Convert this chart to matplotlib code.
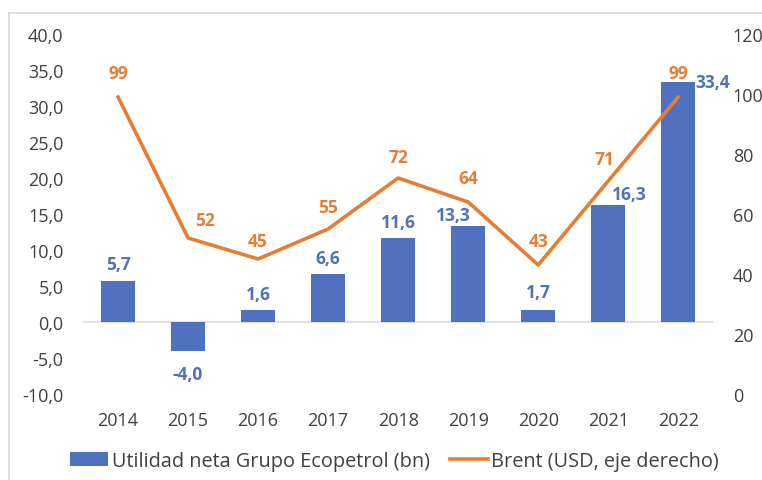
import matplotlib.pyplot as plt
from matplotlib.lines import Line2D

# data
years = ["2014", "2015", "2016", "2017", "2018", "2019", "2020", "2021", "2022"]
utilidad = [5.7, -4.0, 1.6, 6.6, 11.6, 13.3, 1.7, 16.3, 33.4]
brent = [99, 52, 45, 55, 72, 64, 43, 71, 99]
left_ticks = [-10, -5, 0, 5, 10, 15, 20, 25, 30, 35, 40]
right_ticks = [0, 20, 40, 60, 80, 100, 120]

# label nudges in points (dx, dy) -- hand placed like the original
bar_off = [(0, 12), (0, -17), (0, 12), (0, 12), (0, 12), (-11, 8), (0, 13), (15, 8), (0, 0)]
line_off = [(0, 17), (12, 13), (0, 13), (0, 16), (0, 15), (0, 17), (0, 17), (-3, 16), (0, 17)]

BLUE = "#4F71BE"
ORANGE = "#E57E34"
GREY = "#404040"

plt.rcParams['font.family'] = ['Open Sans', 'DejaVu Sans']
plt.rcParams['font.size'] = 12.5

fig = plt.figure(figsize=(7.62, 4.81), dpi=100)
ax = fig.add_axes([0.109, 0.179, 0.827, 0.748])
ax2 = ax.twinx()

x = range(len(years))
bars = ax.bar(x, utilidad, width=0.49, color=BLUE, zorder=2,
              label="Utilidad neta Grupo Ecopetrol (bn)")
ax.axhline(0, color="#D9D9D9", lw=1.2, zorder=1)
ax.set_ylim(-10, 40)
ax.set_xlim(-0.5, len(years) - 0.5)
ax.set_yticks(left_ticks)
ax.set_yticklabels([f"{v:.1f}".replace(".", ",") for v in left_ticks])
ax.set_xticks(list(x))
ax.set_xticklabels(years)

ln, = ax2.plot(x, brent, color=ORANGE, lw=2.6, zorder=3,
               label="Brent (USD, eje derecho)")
ax2.set_ylim(0, 120)
ax2.set_yticks(right_ticks)

for a in (ax, ax2):
    for s in a.spines.values():
        s.set_visible(False)
    a.tick_params(length=0, colors=GREY, labelsize=13)
ax.tick_params(axis="y", pad=14)
ax.tick_params(axis="x", pad=12)
ax2.tick_params(axis="y", pad=14)

# bar labels
for i, v in enumerate(utilidad):
    lbl = f"{v:.1f}".replace(".", ",")
    dx, dy = bar_off[i]
    if i == len(utilidad) - 1:
        ax.annotate(lbl, (i + 0.245, v), xytext=(0, 0), textcoords="offset points",
                    ha="left", va="center", color=BLUE, fontweight="bold")
    else:
        ax.annotate(lbl, (i, v), xytext=(dx, dy), textcoords="offset points",
                    ha="center", va="center", color=BLUE, fontweight="bold")

# line labels
for i, v in enumerate(brent):
    dx, dy = line_off[i]
    ax2.annotate(str(v), (i, v), xytext=(dx, dy), textcoords="offset points",
                 ha="center", va="center", color=ORANGE, fontweight="bold")

fig.legend(handles=[bars, ln], loc="center", bbox_to_anchor=(0.518, 0.04),
           ncol=2, frameon=False, handlelength=1.9, handletextpad=0.2,
           columnspacing=1.0, labelcolor=GREY, fontsize=14.3)

# light frame around the chart area
fig.add_artist(Line2D([9 / 762, 1], [1 - 14 / 481, 1 - 14 / 481], color="#D9D9D9", lw=1.2))
fig.add_artist(Line2D([9 / 762, 9 / 762], [0, 1 - 14 / 481], color="#D9D9D9", lw=1.2))

fig.savefig("out.png", dpi=100)
